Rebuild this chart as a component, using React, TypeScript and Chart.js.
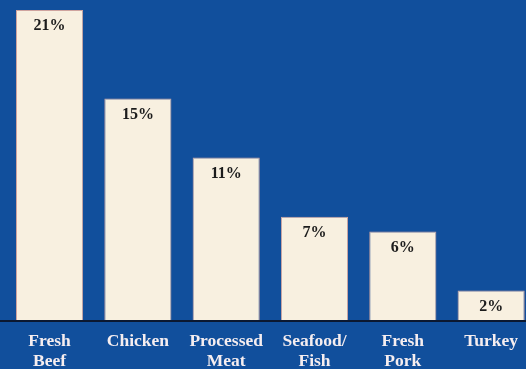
import React, { useEffect, useRef } from "react";
import { Chart, registerables } from "chart.js";

Chart.register(...registerables);

const categories: (string | string[])[] = [
  ["Fresh", "Beef"],
  "Chicken",
  ["Processed", "Meat"],
  ["Seafood/", "Fish"],
  ["Fresh", "Pork"],
  "Turkey",
];
const shares: number[] = [21, 15, 11, 7, 6, 2];
const shareLabels: string[] = ["21%", "15%", "11%", "7%", "6%", "2%"];

const BG = "#114f9c";
const BAR = "#f8f0e0";
const BAR_BORDER = "#cfa49f";
const SERIF = "Liberation Serif";

const valueLabelPlugin = {
  id: "valueLabels",
  afterDatasetsDraw(chart: any) {
    const ctx = chart.ctx;
    const meta = chart.getDatasetMeta(0);
    ctx.save();
    ctx.font = `bold 16px ${SERIF}`;
    ctx.fillStyle = "#1c1c1c";
    ctx.textAlign = "center";
    ctx.textBaseline = "middle";
    meta.data.forEach((el: any, i: number) => {
      ctx.fillText(shareLabels[i], el.x, el.y + 16);
    });
    ctx.restore();
  },
};

const baselinePlugin = {
  id: "baseline",
  afterDatasetsDraw(chart: any) {
    const ctx = chart.ctx;
    const y = chart.scales.y.getPixelForValue(0);
    ctx.save();
    ctx.strokeStyle = "#0b1830";
    ctx.lineWidth = 2;
    ctx.beginPath();
    ctx.moveTo(0, y + 1);
    ctx.lineTo(chart.width, y + 1);
    ctx.stroke();
    ctx.restore();
  },
};

export default function App() {
  const ref = useRef<HTMLCanvasElement | null>(null);

  useEffect(() => {
    if (!ref.current) return;
    const chart = new Chart(ref.current, {
      type: "bar",
      data: {
        labels: categories,
        datasets: [
          {
            data: shares,
            backgroundColor: BAR,
            borderColor: BAR_BORDER,
            borderWidth: 1,
            barPercentage: 0.76,
            categoryPercentage: 1,
          },
        ],
      },
      options: {
        responsive: false,
        animation: false,
        devicePixelRatio: 1,
        layout: { padding: { left: 5.4, right: 9.7, top: 10, bottom: 0 } },
        plugins: {
          legend: { display: false },
          tooltip: { enabled: false },
        },
        scales: {
          x: {
            grid: { display: false, drawTicks: false },
            border: { display: false },
            ticks: {
              color: "#f6eef0",
              font: { family: SERIF, size: 17.5, weight: "bold", lineHeight: 20 / 17.5 },
              padding: 11,
              maxRotation: 0,
              autoSkip: false,
            },
            afterFit: (scale: any) => {
              scale.height = 70;
            },
          },
          y: {
            display: false,
            min: 0,
            max: 21,
          },
        },
      },
      plugins: [valueLabelPlugin, baselinePlugin],
    });
    return () => chart.destroy();
  }, []);

  return (
    <div
      style={{
        position: "fixed",
        left: 0,
        top: 0,
        width: 526,
        height: 369,
        overflow: "hidden",
        background: BG,
      }}
    >
      <canvas ref={ref} width={545} height={390} style={{ display: "block" }} />
    </div>
  );
}
